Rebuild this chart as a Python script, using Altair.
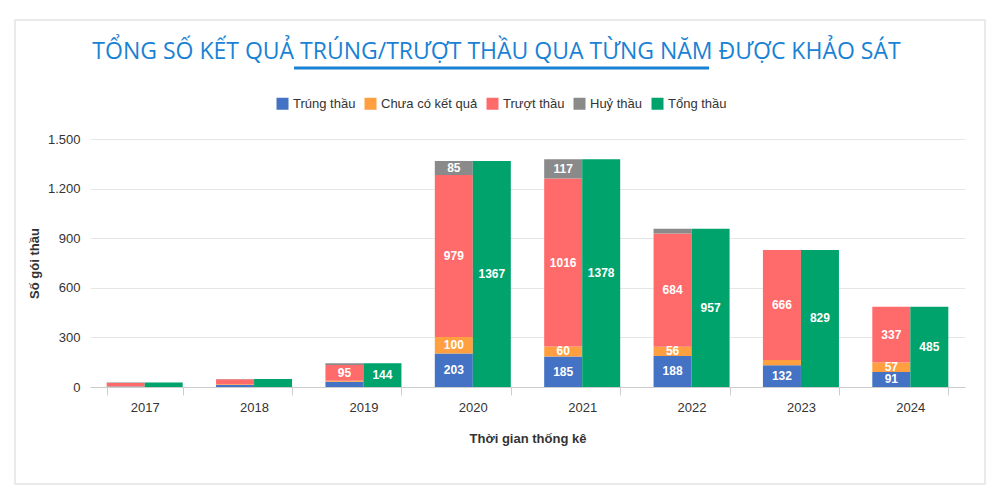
import altair as alt
import pandas as pd

years = ["2017", "2018", "2019", "2020", "2021", "2022", "2023", "2024"]
trung_thau = [3, 12, 32, 203, 185, 188, 132, 91]
chua_co_ket_qua = [1, 5, 6, 100, 60, 56, 31, 57]
truot_thau = [20, 30, 95, 979, 1016, 684, 666, 337]
huy_thau = [3, 1, 11, 85, 117, 29, 0, 0]
tong_thau = [27, 48, 144, 1367, 1378, 957, 829, 485]

series_names = ["Trúng thầu", "Chưa có kết quả", "Trượt thầu", "Huỷ thầu", "Tổng thầu"]
series_colors = ["#4472c4", "#ff9f40", "#ff6b6b", "#8a8a8a", "#00a36c"]
y_ticks = [0, 300, 600, 900, 1200, 1500]
title_text = "TỔNG SỐ KẾT QUẢ TRÚNG/TRƯỢT THẦU QUA TỪNG NĂM ĐƯỢC KHẢO SÁT"

rows = []
for i, yr in enumerate(years):
    for k, (name, vals) in enumerate(zip(series_names[:4], [trung_thau, chua_co_ket_qua, truot_thau, huy_thau])):
        rows.append({"year": yr, "series": name, "value": vals[i], "order": k, "group": "a"})
    rows.append({"year": yr, "series": series_names[4], "value": tong_thau[i], "order": 0, "group": "b"})
df = pd.DataFrame(rows)

FONT = "Liberation Sans"

base = (
    alt.Chart(df)
    .transform_stack(stack="value", as_=["y0", "y1"], groupby=["year", "group"],
                     sort=[alt.SortField("order", "ascending")])
    .transform_calculate(mid="(datum.y0 + datum.y1) / 2")
)

x_enc = alt.X(
    "year:N",
    title="Thời gian thống kê",
    scale=alt.Scale(paddingInner=0.305, paddingOuter=0.1525),
    axis=alt.Axis(labelAngle=0, tickBand="extent", tickSize=8, tickColor="#cccccc",
                  domainColor="#cccccc", labelFontSize=13, labelColor="#333333",
                  labelPadding=6, titleFontSize=13, titleFontWeight="bold",
                  titleColor="#333333", titlePadding=18, grid=False),
)
xo_enc = alt.XOffset("group:N", scale=alt.Scale(paddingInner=0, paddingOuter=0))

y_scale = alt.Scale(domain=[0, 1500], nice=False)
y_axis = alt.Axis(values=y_ticks, title="Số gói thầu",
                  labelExpr="replace(format(datum.value, ','), ',', '.')",
                  grid=True, gridColor="#e6e6e6", domain=False, ticks=False,
                  labelFontSize=13, labelColor="#333333", labelPadding=10,
                  titleFontSize=13, titleFontWeight="bold", titleColor="#333333",
                  titlePadding=6)

color_enc = alt.Color(
    "series:N",
    scale=alt.Scale(domain=series_names, range=series_colors),
    legend=alt.Legend(orient="none", legendX=186, legendY=-42, direction="horizontal",
                      title=None, symbolType="square", symbolSize=144, symbolStrokeWidth=0,
                      labelFontSize=13, labelColor="#333333", labelOffset=4,
                      columnPadding=8, labelFont=FONT),
)

bars = base.mark_bar().encode(
    x=x_enc, xOffset=xo_enc,
    y=alt.Y("y0:Q", scale=y_scale, axis=y_axis),
    y2="y1:Q",
    color=color_enc,
)

labels = base.transform_filter("datum.value >= 50").mark_text(
    color="white", fontWeight="bold", fontSize=12, font=FONT, baseline="middle"
).encode(
    x=x_enc, xOffset=xo_enc,
    y=alt.Y("mid:Q", scale=y_scale, axis=y_axis),
    text="value:Q",
)

deco = pd.DataFrame({"title": [title_text]})
title = alt.Chart(deco).mark_text(
    font="Open Sans", fontSize=23, color="#1a82d4", align="center", baseline="middle"
).encode(x=alt.value(406.5), y=alt.value(-87), text="title:N")

underline = alt.Chart(deco).mark_rule(
    color="#1a82d4", strokeWidth=3
).encode(x=alt.value(204), x2=alt.value(619), y=alt.value(-71))

card = alt.Chart(deco).mark_rect(
    fill="white", fillOpacity=0, stroke="#e4e4e4", strokeWidth=1.5
).encode(x=alt.value(-75), x2=alt.value(895), y=alt.value(-119), y2=alt.value(345))

chart = (
    alt.layer(card, bars, labels, title, underline)
    .properties(
        width=875, height=248,
        autosize=alt.AutoSizeParams(type="none"),
        padding={"left": 90, "top": 139, "right": 28, "bottom": 107},
    )
    .configure(font=FONT, background="white")
    .configure_view(stroke=None)
)

chart.save("out.html", embed_options={"renderer": "svg", "actions": False})
